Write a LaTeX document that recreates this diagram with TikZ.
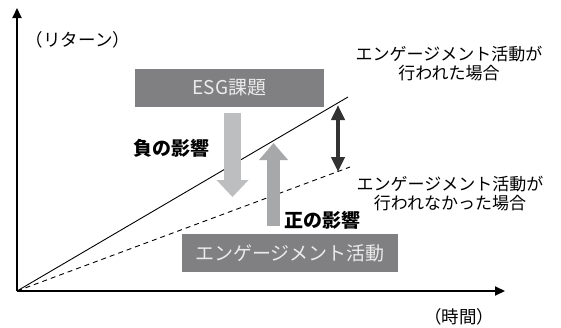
\documentclass[tikz,border=0pt]{standalone}
\usepackage{fontspec}
\setmainfont{Noto Sans CJK JP}
\usepackage{tikz}
\usetikzlibrary{arrows.meta,positioning}
\definecolor{boxgray}{HTML}{808082}
\definecolor{downgray}{HTML}{BDBEC0}
\definecolor{upgray}{HTML}{A7A8AA}
\definecolor{pairgray}{HTML}{333333}

\begin{document}
\begin{tikzpicture}[x=1pt,y=-1pt,
  axis/.style={line width=2pt,-{Triangle[length=10pt,width=9pt]}},
  graybox/.style={fill=boxgray,text=white!92!black,minimum height=38pt,font=\fontsize{19}{21}\selectfont},
  caption/.style={align=center,font=\fontsize{17}{19}\selectfont},
  axislabel/.style={font=\fontsize{17.5}{19}\selectfont},
  effect/.style={font=\bfseries\fontsize{19}{21}\selectfont}]
\useasboundingbox (0,0) rectangle (561,327);
\coordinate (O) at (17,291);
\coordinate (Ytop) at (17,8);
\coordinate (Xend) at (505,291);
\coordinate (With) at (348,97);
\coordinate (Without) at (350,167);
\coordinate (GapTop) at (338,105);
\coordinate (GapBot) at (338,172);
\coordinate (DownTop) at (232.5,113);
\coordinate (DownTip) at (232.5,197);
\coordinate (UpBot) at (273.5,226);
\coordinate (UpTip) at (273.5,143);
\node[graybox,minimum width=189pt] (ESG) at (229.5,88) {ESG課題};
\node[graybox,minimum width=216pt] (Eng) at (290,253) {エンゲージメント活動};
\node[axislabel] (Ret) at (78,40) {（リターン）};
\node[axislabel] (Time) at (459,317) {（時間）};
\node[caption] (Done) at (449,64) {エンゲージメント活動が\\行われた場合};
\node[caption] (NotDone) at (450,194) {エンゲージメント活動が\\行われなかった場合};
\node[effect] (Neg) at (171,148) {負の影響};
\node[effect] (Pos) at (322,220) {正の影響};
\draw[axis] (O) -- (Ytop);
\draw[axis] (O) -- (Xend);
\draw[line width=0.9pt] (O) -- (With);
\draw[line width=0.9pt,dashed,dash pattern=on 5pt off 4pt] (O) -- (Without);
\draw[downgray,line width=17pt,-{Triangle[length=17pt,width=31pt]}] (DownTop) -- (DownTip);
\draw[upgray,line width=13pt,-{Triangle[length=17pt,width=28pt]}] (UpBot) -- (UpTip);
\draw[pairgray,line width=4.5pt,{Triangle[length=15pt,width=13pt]}-{Triangle[length=15pt,width=13pt]}] (GapTop) -- (GapBot);
\end{tikzpicture}
\end{document}
